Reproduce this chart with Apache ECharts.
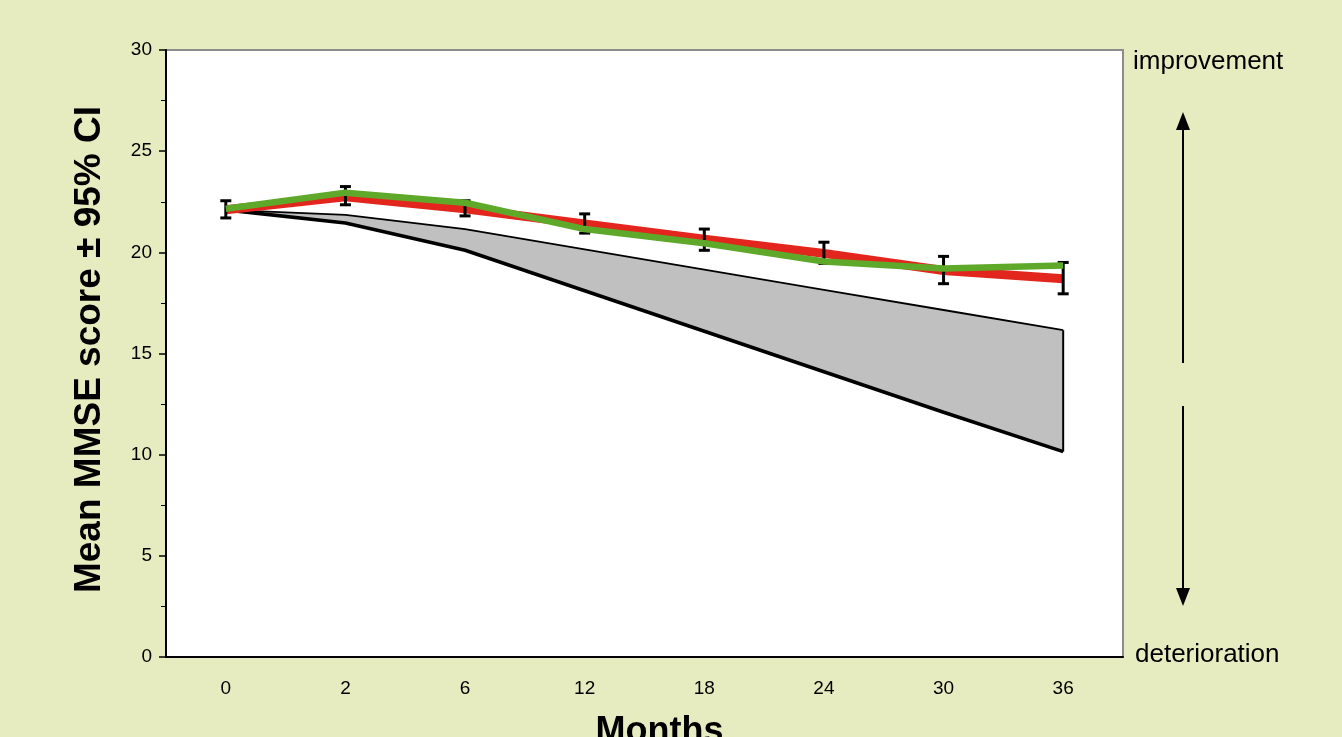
<!DOCTYPE html>
<html>
<head>
<meta charset="utf-8">
<script src="https://cdn.jsdelivr.net/npm/echarts@6/dist/echarts.min.js"></script>
<style>
html,body{margin:0;padding:0;background:#e7ecc0;}
#chart{width:1342px;height:737px;}
</style>
</head>
<body>
<div id="chart"></div>
<script>
var months = ['0','2','6','12','18','24','30','36'];
var redMean = [22.1, 22.75, 22.15, 21.4, 20.65, 19.95, 19.1, 18.7];
var errLow  = [21.7, 22.35, 21.8, 20.95, 20.1, 19.45, 18.45, 17.95];
var errHigh = [22.55, 23.25, 22.55, 21.9, 21.15, 20.5, 19.8, 19.5];
var greenMean = [22.15, 22.95, 22.45, 21.15, 20.45, 19.55, 19.2, 19.35];
var bandUpper = [22.1, 21.85, 21.15, 20.15, 19.15, 18.15, 17.15, 16.15];
var bandLower = [22.1, 21.45, 20.1, 18.1, 16.1, 14.1, 12.1, 10.15];
var yTicks = [0, 5, 10, 15, 20, 25, 30];

var bandDiff = bandUpper.map(function(u, i){ return +(u - bandLower[i]).toFixed(3); });
var lastIdx = months.length - 1;

var chart = echarts.init(document.getElementById('chart'));
chart.setOption({
  backgroundColor: '#e7ecc0',
  animation: false,
  grid: {
    left: 166, right: 219, top: 50, bottom: 80,
    outerBoundsMode: 'none',
    containLabel: false,
    show: true, backgroundColor: '#ffffff', borderColor: '#8c8c8c', borderWidth: 2
  },
  xAxis: {
    type: 'category',
    data: months,
    boundaryGap: true,
    axisLine: { show: true, lineStyle: { color: '#000', width: 2 } },
    axisTick: { show: false },
    axisLabel: { color: '#000', fontSize: 19, fontFamily: 'Liberation Sans, Arial', margin: 22 },
    name: 'Months',
    nameLocation: 'middle',
    nameGap: 57,
    nameTextStyle: { color: '#000', fontSize: 36, fontWeight: 'bold', fontFamily: 'Liberation Sans, Arial', verticalAlign: 'top', padding: [0, 0, 0, 30] }
  },
  yAxis: {
    type: 'value',
    min: yTicks[0], max: yTicks[yTicks.length - 1], interval: 5,
    axisLine: { show: true, lineStyle: { color: '#000', width: 2 } },
    axisTick: { show: true, length: 7, lineStyle: { color: '#000', width: 1.5 } },
    minorTick: { show: true, splitNumber: 2, length: 5, lineStyle: { color: '#000', width: 1 } },
    splitLine: { show: false },
    axisLabel: { color: '#000', fontSize: 19, fontFamily: 'Liberation Sans, Arial', margin: 14 },
    name: 'Mean MMSE score \u00b1 95% CI',
    nameLocation: 'middle',
    nameGap: 58,
    nameTextStyle: { color: '#000', fontSize: 37, fontWeight: 'bold', fontFamily: 'Liberation Sans, Arial', padding: [0, 0, 0, 8] }
  },
  series: [
    {
      name: 'bandBase', type: 'line', data: bandLower, stack: 'band',
      symbol: 'none', lineStyle: { width: 0, opacity: 0 }, silent: true, z: 1
    },
    {
      name: 'bandFill', type: 'line', data: bandDiff, stack: 'band',
      symbol: 'none', lineStyle: { width: 0, opacity: 0 },
      areaStyle: { color: '#c0c0c0', opacity: 1 }, silent: true, z: 1
    },
    {
      name: 'upper', type: 'line', data: bandUpper, symbol: 'none',
      lineStyle: { color: '#000', width: 1.8 }, z: 2
    },
    {
      name: 'lower', type: 'line', data: bandLower, symbol: 'none',
      lineStyle: { color: '#000', width: 3.6 }, z: 2
    },
    {
      name: 'edge', type: 'line', symbol: 'none',
      data: [[months[lastIdx], bandLower[lastIdx]], [months[lastIdx], bandUpper[lastIdx]]],
      lineStyle: { color: '#000', width: 2 }, z: 2
    },
    {
      name: 'red', type: 'line', data: redMean, symbol: 'none',
      lineStyle: { color: '#e3261d', width: 9, join: 'miter' }, z: 3
    },
    {
      name: 'ci', type: 'custom', z: 4,
      data: months.map(function(m, i){ return [i, errLow[i], errHigh[i]]; }),
      renderItem: function(params, api){
        var lo = api.coord([api.value(0), api.value(1)]);
        var hi = api.coord([api.value(0), api.value(2)]);
        var w = 5.5;
        var st = { stroke: '#000', lineWidth: 3 };
        return {
          type: 'group',
          children: [
            { type: 'line', shape: { x1: lo[0], y1: lo[1], x2: hi[0], y2: hi[1] }, style: st },
            { type: 'line', shape: { x1: lo[0]-w, y1: lo[1], x2: lo[0]+w, y2: lo[1] }, style: st },
            { type: 'line', shape: { x1: hi[0]-w, y1: hi[1], x2: hi[0]+w, y2: hi[1] }, style: st }
          ]
        };
      }
    },
    {
      name: 'green', type: 'line', data: greenMean, symbol: 'none',
      lineStyle: { color: '#5fa92a', width: 6.5 }, z: 5
    }
  ],
  graphic: [
    { type: 'text', left: 1133, top: 49, style: { text: 'improvement', fill: '#000', font: '26px "Liberation Sans", Arial' } },
    { type: 'text', left: 1135, top: 642, style: { text: 'deterioration', fill: '#000', font: '26px "Liberation Sans", Arial' } },
    { type: 'line', shape: { x1: 1183, y1: 128, x2: 1183, y2: 363 }, style: { stroke: '#000', lineWidth: 2 } },
    { type: 'polygon', shape: { points: [[1183, 112], [1176, 130], [1190, 130]] }, style: { fill: '#000' } },
    { type: 'line', shape: { x1: 1183, y1: 406, x2: 1183, y2: 590 }, style: { stroke: '#000', lineWidth: 2 } },
    { type: 'polygon', shape: { points: [[1183, 606], [1176, 588], [1190, 588]] }, style: { fill: '#000' } }
  ]
});
</script>
</body>
</html>
